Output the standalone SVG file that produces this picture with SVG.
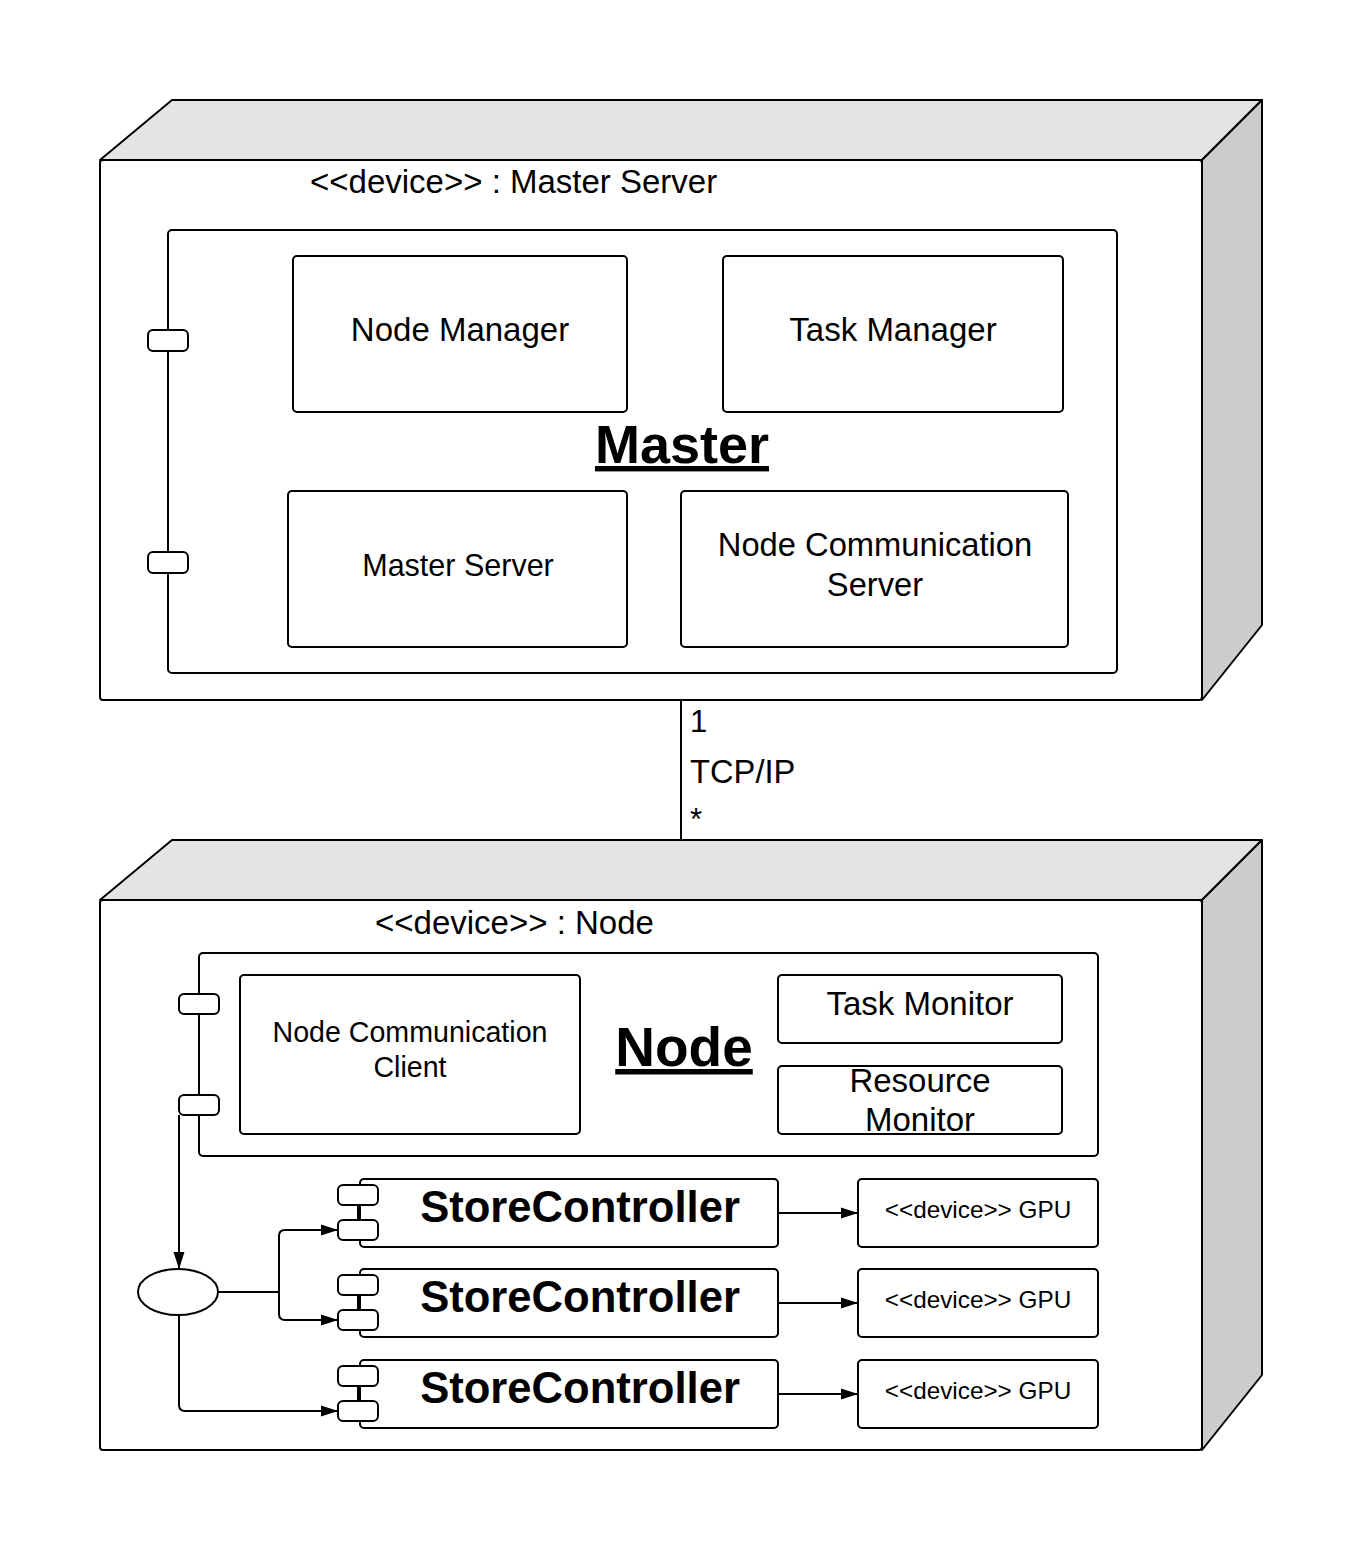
<svg xmlns="http://www.w3.org/2000/svg" width="1360" height="1560" viewBox="0 0 1360 1560">
<style>
  .ln { fill: none; stroke: #000; stroke-width: 2; stroke-linejoin: round; }
  .box { fill: #fff; stroke: #000; stroke-width: 2; }
  .top { fill: #e4e4e4; stroke: #000; stroke-width: 2; stroke-linejoin: round; }
  .side { fill: #cccccc; stroke: #000; stroke-width: 2; stroke-linejoin: round; }
  .t { font-family: "Liberation Sans", Arial, sans-serif; fill: #000; }
  .c { text-anchor: middle; }
  .b { font-weight: bold; }
</style>
<defs>
  <marker id="arr" markerWidth="18" markerHeight="14" refX="17" refY="7" orient="auto" markerUnits="userSpaceOnUse">
    <path d="M0,1.5 L17,7 L0,12.5 Z" fill="#000"/>
  </marker>
</defs>
<rect width="1360" height="1560" fill="#fff"/>

<g id="master-device">
  <path class="top" d="M100,160 L172,100 L1262,100 L1202,160 Z"/>
  <path class="side" d="M1202,160 L1262,100 L1262,625 L1202,700 Z"/>
  <rect class="box" x="100" y="160" width="1102" height="540" rx="3"/>
  <text class="t" x="310" y="193" font-size="33">&lt;&lt;device&gt;&gt; : Master Server</text>
</g>

<g id="master-component">
  <rect class="box" x="168" y="230" width="949" height="443" rx="4"/>
  <rect class="box" x="148" y="330" width="40" height="21" rx="5"/>
  <rect class="box" x="148" y="552" width="40" height="21" rx="5"/>
  <text class="t c b" x="682" y="463" font-size="54" text-decoration="underline">Master</text>
</g>

<g id="node-manager">
  <rect class="box" x="293" y="256" width="334" height="156" rx="4"/>
  <text class="t c" x="460" y="341" font-size="33">Node Manager</text>
</g>
<g id="task-manager">
  <rect class="box" x="723" y="256" width="340" height="156" rx="4"/>
  <text class="t c" x="893" y="341" font-size="33">Task Manager</text>
</g>
<g id="master-server">
  <rect class="box" x="288" y="491" width="339" height="156" rx="4"/>
  <text class="t c" x="458" y="576" font-size="30.5">Master Server</text>
</g>
<g id="node-comm-server">
  <rect class="box" x="681" y="491" width="387" height="156" rx="4"/>
  <text class="t c" x="875" y="556" font-size="32.7">Node Communication</text>
  <text class="t c" x="875" y="596" font-size="32.7">Server</text>
</g>

<g id="node-device">
  <path class="top" d="M100,900 L172,840 L1262,840 L1202,900 Z"/>
  <path class="side" d="M1202,900 L1262,840 L1262,1375 L1202,1450 Z"/>
  <rect class="box" x="100" y="900" width="1102" height="550" rx="3"/>
  <text class="t" x="375" y="934" font-size="33">&lt;&lt;device&gt;&gt; : Node</text>
</g>

<g id="node-component">
  <rect class="box" x="199" y="953" width="899" height="203" rx="4"/>
  <rect class="box" x="179" y="994" width="40" height="20" rx="5"/>
  <rect class="box" x="179" y="1095" width="40" height="20" rx="5"/>
  <text class="t c b" x="684" y="1066" font-size="55" text-decoration="underline">Node</text>
</g>

<g id="node-comm-client">
  <rect class="box" x="240" y="975" width="340" height="159" rx="4"/>
  <text class="t c" x="410" y="1042" font-size="28.6">Node Communication</text>
  <text class="t c" x="410" y="1077" font-size="28.6">Client</text>
</g>
<g id="task-monitor">
  <rect class="box" x="778" y="975" width="284" height="68" rx="4"/>
  <text class="t c" x="920" y="1015" font-size="33">Task Monitor</text>
</g>
<g id="resource-monitor">
  <rect class="box" x="778" y="1066" width="284" height="68" rx="4"/>
  <text class="t c" x="920" y="1092" font-size="33">Resource</text>
  <text class="t c" x="920" y="1131" font-size="33">Monitor</text>
</g>

<g id="junction">
  <ellipse class="box" cx="178" cy="1292" rx="40" ry="23"/>
</g>

<g id="store-controller-1">
  <rect class="box" x="360" y="1179" width="418" height="68" rx="4"/>
  <line class="ln" x1="358" y1="1205" x2="358" y2="1220"/>
  <rect class="box" x="338" y="1185" width="40" height="20" rx="5"/>
  <rect class="box" x="338" y="1220" width="40" height="20" rx="5"/>
  <text class="t c b" x="580" y="1222" font-size="43.6">StoreController</text>
</g>
<g id="store-controller-2">
  <rect class="box" x="360" y="1269" width="418" height="68" rx="4"/>
  <line class="ln" x1="358" y1="1295" x2="358" y2="1310"/>
  <rect class="box" x="338" y="1275" width="40" height="20" rx="5"/>
  <rect class="box" x="338" y="1310" width="40" height="20" rx="5"/>
  <text class="t c b" x="580" y="1312" font-size="43.6">StoreController</text>
</g>
<g id="store-controller-3">
  <rect class="box" x="360" y="1360" width="418" height="68" rx="4"/>
  <line class="ln" x1="358" y1="1386" x2="358" y2="1401"/>
  <rect class="box" x="338" y="1366" width="40" height="20" rx="5"/>
  <rect class="box" x="338" y="1401" width="40" height="20" rx="5"/>
  <text class="t c b" x="580" y="1403" font-size="43.6">StoreController</text>
</g>

<g id="gpu-1">
  <rect class="box" x="858" y="1179" width="240" height="68" rx="4"/>
  <text class="t c" x="978" y="1218" font-size="24.3">&lt;&lt;device&gt;&gt; GPU</text>
</g>
<g id="gpu-2">
  <rect class="box" x="858" y="1269" width="240" height="68" rx="4"/>
  <text class="t c" x="978" y="1308" font-size="24.3">&lt;&lt;device&gt;&gt; GPU</text>
</g>
<g id="gpu-3">
  <rect class="box" x="858" y="1360" width="240" height="68" rx="4"/>
  <text class="t c" x="978" y="1399" font-size="24.3">&lt;&lt;device&gt;&gt; GPU</text>
</g>

<g id="connectors">
  <line class="ln" x1="681" y1="700" x2="681" y2="840"/>
  <text class="t" x="690" y="732" font-size="31">1</text>
  <text class="t" x="690" y="783" font-size="32.7">TCP/IP</text>
  <text class="t" x="690" y="830" font-size="31">*</text>

  <path class="ln" d="M179,1115 V1269" marker-end="url(#arr)"/>
  <path class="ln" d="M218,1292 H279 V1236 Q279,1230 285,1230 H338" marker-end="url(#arr)"/>
  <path class="ln" d="M279,1292 V1314 Q279,1320 285,1320 H338" marker-end="url(#arr)"/>
  <path class="ln" d="M179,1315 V1405 Q179,1411 185,1411 H338" marker-end="url(#arr)"/>

  <path class="ln" d="M778,1213 H858" marker-end="url(#arr)"/>
  <path class="ln" d="M778,1303 H858" marker-end="url(#arr)"/>
  <path class="ln" d="M778,1394 H858" marker-end="url(#arr)"/>
</g>
</svg>
